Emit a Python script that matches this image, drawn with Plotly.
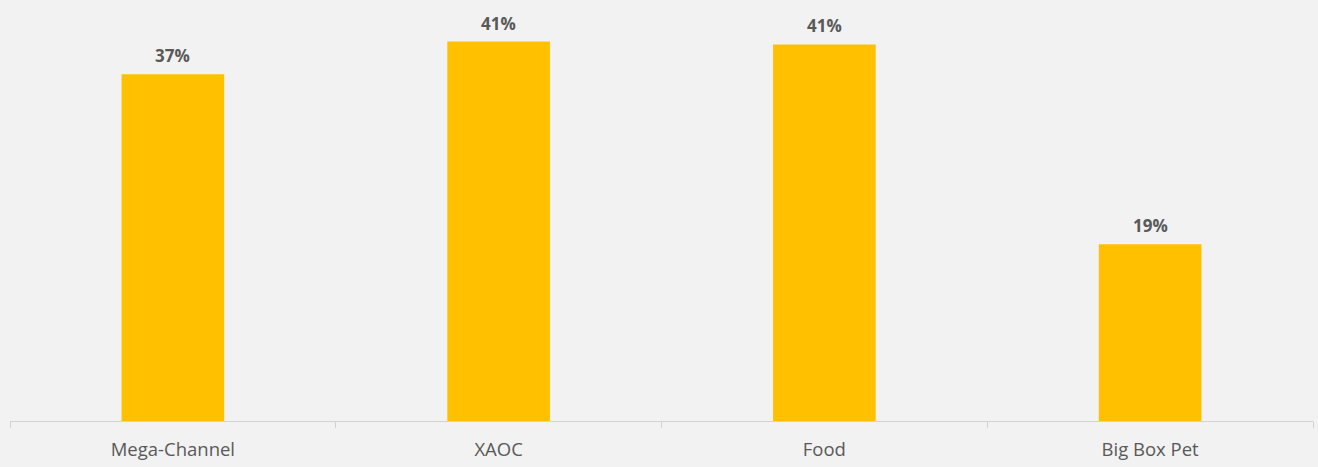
import plotly.graph_objects as go

categories = ["Mega-Channel", "XAOC", "Food", "Big Box Pet"]
values = [37.3, 40.8, 40.5, 19.0]
labels = ["37%", "41%", "41%", "19%"]

BG = "#f2f2f2"

fig = go.Figure()
fig.add_trace(go.Bar(
    x=categories, y=values,
    marker=dict(color="#FFC000", line=dict(width=0)),
    hoverinfo="skip",
))

for c, v, t in zip(categories, values, labels):
    fig.add_annotation(
        x=c, y=v, text=f"<b>{t}</b>", showarrow=False,
        yanchor="bottom", yshift=5,
        font=dict(family="Open Sans", size=17, color="#595959"),
    )

fig.update_layout(
    width=1318, height=467,
    margin=dict(l=10, r=5, t=10, b=46),
    paper_bgcolor=BG,
    plot_bgcolor=BG,
    bargap=0.685,
    showlegend=False,
    xaxis=dict(
        showline=True, linecolor="#d2d2d2", linewidth=1,
        ticks="outside", tickson="boundaries", ticklen=6, tickcolor="#d2d2d2",
        tickfont=dict(family="Open Sans", size=18.5, color="#595959"),
        ticklabelstandoff=12,
        showgrid=False,
    ),
    yaxis=dict(range=[0, 44.2], visible=False, showgrid=False),
)

fig.write_html(
    "out.html",
    config={"displayModeBar": False},
    post_script=f"document.body.style.margin='0';document.body.style.background='{BG}';",
)
